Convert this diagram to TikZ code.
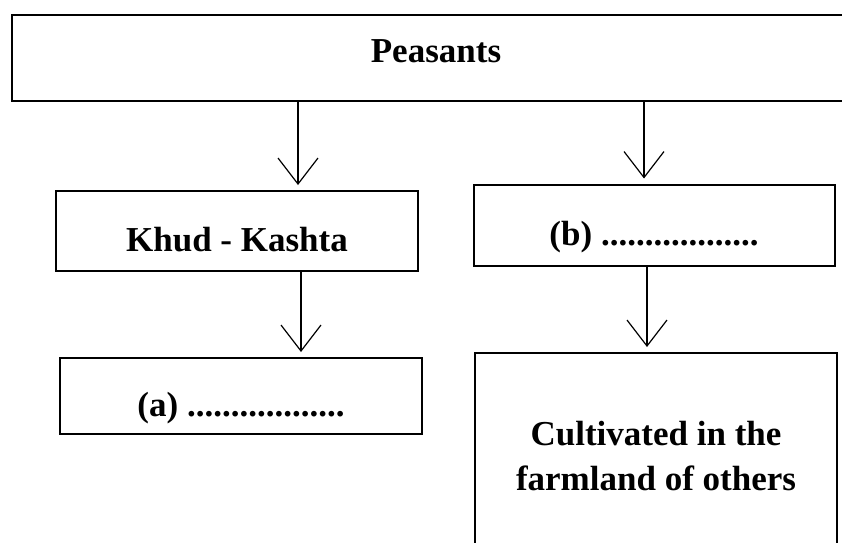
\documentclass[tikz,border=0pt]{standalone}
\usepackage{fontspec}
\setmainfont{Liberation Serif}
\usepackage{tikz}
\usetikzlibrary{arrows.meta}

\tikzset{
  box/.style={draw=black,line width=1pt,inner sep=0pt,align=center,
    font=\bfseries\fontsize{17.5}{22.5}\selectfont},
  lowtext/.style={text height=22pt,text depth=2pt},
  link/.style={line width=0.6pt,-{Straight Barb[length=13pt,width=20pt,line width=0.6pt]},shorten >=2.5pt}
}

\begin{document}
\begin{tikzpicture}[x=0.5pt,y=-0.5pt]

\useasboundingbox [fill=white] (0,0) rectangle (842,542);

\node [box,minimum width=424pt,minimum height=43pt,text height=6pt,text depth=2pt] (peas) at (436,58) {Peasants};

\node [box,lowtext,minimum width=181pt,minimum height=40pt] (khud) at (237,231) {Khud - Kashta};
\node [box,lowtext,minimum width=180.5pt,minimum height=40.5pt] (bfill) at (654,225) {(b) ..................};

\node [box,lowtext,minimum width=181pt,minimum height=38pt] (afill) at (241,396) {(a) ..................};
\node [box,minimum width=181pt,minimum height=103pt] (cult) at (656,456) {Cultivated in the\\farmland of others};

\draw [link] ([xshift=30.5pt]khud.north |- peas.south) -- ([xshift=30.5pt]khud.north);
\draw [link] ([xshift=-5pt]bfill.north |- peas.south) -- ([xshift=-5pt]bfill.north);

\draw [link] ([xshift=32pt]khud.south) -- ([xshift=32pt]khud.south |- afill.north);
\draw [link] ([xshift=-3.5pt]bfill.south) -- ([xshift=-3.5pt]bfill.south |- cult.north);

\end{tikzpicture}
\end{document}
